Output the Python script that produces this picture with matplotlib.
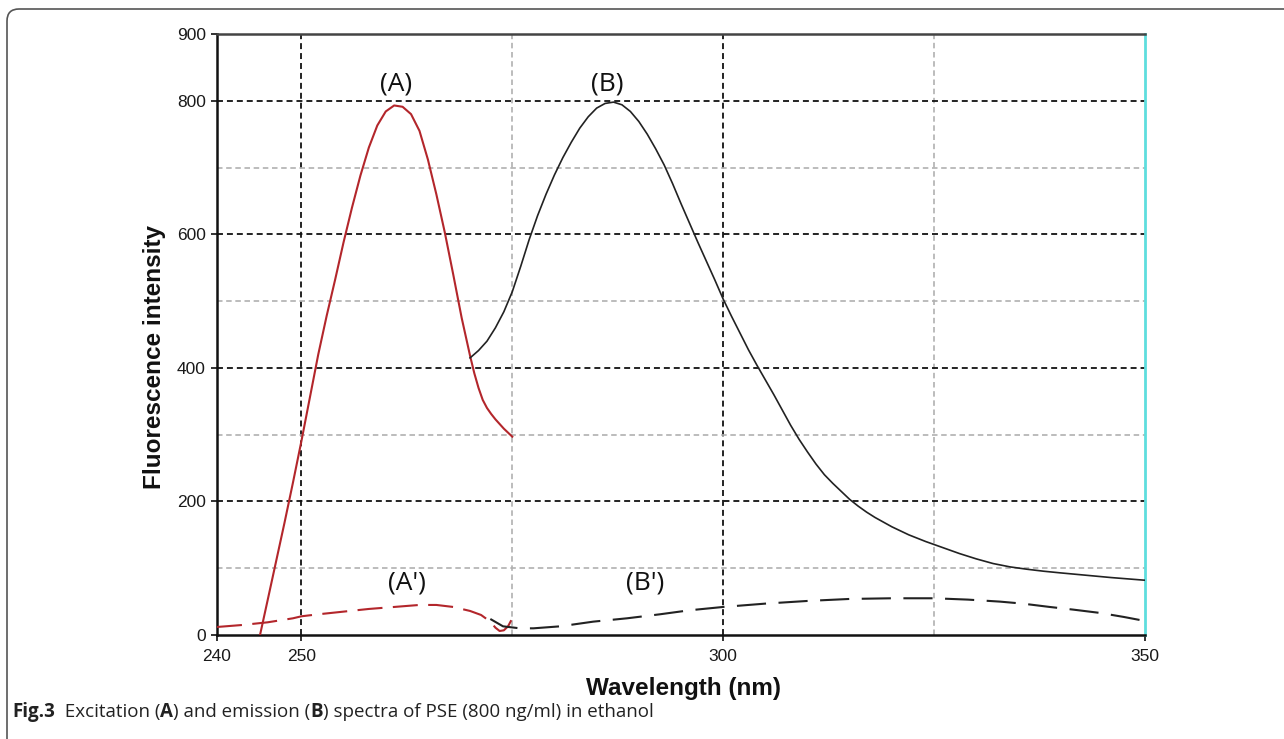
import matplotlib
matplotlib.use("Agg")
import matplotlib.pyplot as plt
from matplotlib import font_manager
from matplotlib.patches import FancyBboxPatch
from matplotlib.transforms import IdentityTransform

# ---------------- data ----------------
# Excitation spectrum (A)
exc_x = [245.1, 246.0, 247.0, 248.0, 249.0, 250.0, 251.0, 252.0, 253.0, 254.0, 255.0,
         256.0, 257.0, 258.0, 259.0, 260.0, 261.0, 262.0, 263.0, 264.0, 265.0, 266.0,
         267.0, 268.0, 269.0, 270.0, 270.5, 271.0, 271.5, 272.0, 272.5, 273.0, 273.5,
         274.0, 274.5, 275.0]
exc_y = [0, 52, 110, 168, 228, 290, 355, 420, 478, 532, 588,
         640, 688, 730, 763, 784, 793, 791, 780, 755, 712, 660,
         603, 540, 475, 418, 392, 370, 352, 340, 331, 323, 316,
         309, 303, 297]

# Emission spectrum (B)
emi_x = [270.0, 271.0, 272.0, 273.0, 274.0, 275.0, 276.0, 277.0, 278.0, 279.0, 280.0,
         281.0, 282.0, 283.0, 284.0, 285.0, 286.0, 287.0, 288.0, 289.0, 290.0, 291.0,
         292.0, 293.0, 294.0, 295.0, 296.0, 297.0, 298.0, 299.0, 300.0, 301.0, 302.0,
         303.0, 304.0, 305.0, 306.0, 307.0, 308.0, 309.0, 310.0, 311.0, 312.0, 313.0,
         314.0, 315.0, 316.0, 317.0, 318.0, 320.0, 322.0, 324.0, 326.0, 328.0, 330.0,
         332.0, 334.0, 336.0, 338.0, 340.0, 343.0, 346.0, 350.0]
emi_y = [415, 426, 440, 460, 484, 514, 552, 592, 628, 660, 689,
         715, 738, 759, 776, 789, 796, 798, 794, 784, 769, 750,
         728, 704, 676, 646, 617, 588, 560, 532, 503, 477, 452,
         427, 404, 382, 360, 337, 314, 293, 274, 256, 240, 227,
         215, 203, 193, 184, 176, 162, 150, 140, 131, 122, 114,
         107, 102, 98.5, 95.5, 93, 89.5, 86, 82]

# Blank excitation (A')
bexc_x = [240, 243, 246, 249, 250, 252, 255, 258, 261, 264, 266, 268, 270, 271.3,
          272.4, 273.0, 273.5, 274.0, 274.5, 275.0]
bexc_y = [12, 15, 19, 25, 28, 31, 35, 39, 42, 45, 45, 42, 36, 30,
          20, 11, 6, 7, 13, 25]

# Blank emission (B')
bemi_x = [272.4, 273.9, 275.9, 277.5, 280.7, 284.6, 288.6, 292.5, 296, 300, 305, 310,
          315, 320, 325, 329, 332.8, 335.5, 338.7, 341.5, 344.7, 347.5, 350]
bemi_y = [24, 13, 10, 10, 13, 20, 25, 31, 37, 42, 47, 51,
          54, 55, 55, 53, 50, 47, 42, 38, 33, 27, 21]

xtick_vals = [240, 250, 300, 350]
ytick_vals = [0, 200, 400, 600, 800, 900]
grid_major_x = [250, 300]
grid_minor_x = [275, 325]
grid_major_y = [200, 400, 600, 800]
grid_minor_y = [100, 300, 500, 700]

curve_labels = ["(A)", "(B)", "(A')", "(B')"]
curve_label_pos = [(261.2, 825), (286.3, 825), (262.5, 78), (290.8, 78)]

caption_parts = [("Fig.3", "bold"), ("  Excitation (", "normal"), ("A", "bold"),
                 (") and emission (", "normal"), ("B", "bold"),
                 (") spectra of PSE (800 ng/ml) in ethanol", "normal")]

# ---------------- figure ----------------
W, H = 1284, 739
fig = plt.figure(figsize=(W / 100, H / 100), dpi=100)
fig.patch.set_facecolor("white")

# outer rounded frame
frame = FancyBboxPatch((7, -30), 1320, 760, boxstyle="round,pad=0,rounding_size=12",
                       transform=IdentityTransform(), facecolor="none",
                       edgecolor="#555555", linewidth=1.2)
fig.patches.append(frame)

L, R, T, B = 217, 1145, 34, 635
ax = fig.add_axes([L / W, (H - B) / H, (R - L) / W, (B - T) / H])
ax.set_xlim(240, 350)
ax.set_ylim(0, 900)

# grid lines
for gx in grid_major_x:
    ax.axvline(gx, color="#111111", lw=1.3, ls=(0, (3.3, 2.2)), zorder=1)
for gx in grid_minor_x:
    ax.axvline(gx, color="#b0b0b0", lw=1.2, ls=(0, (3.3, 2.2)), zorder=1)
for gy in grid_major_y:
    ax.axhline(gy, color="#111111", lw=1.3, ls=(0, (3.3, 2.2)), zorder=1)
for gy in grid_minor_y:
    ax.axhline(gy, color="#b0b0b0", lw=1.2, ls=(0, (3.3, 2.2)), zorder=1)

red = "#b3262b"
ax.plot(exc_x, exc_y, color=red, lw=1.5, zorder=3)
ax.plot(emi_x, emi_y, color="#222222", lw=1.2, zorder=3)
ax.plot(bexc_x, bexc_y, color=red, lw=1.5, ls=(0, (12, 5)), zorder=3)
ax.plot(bemi_x, bemi_y, color="#222222", lw=1.5, ls=(0, (14, 6)), zorder=3)

# spines
for s in ["left", "bottom"]:
    ax.spines[s].set_color("#111111")
    ax.spines[s].set_linewidth(1.8)
ax.spines["top"].set_color("#444444")
ax.spines["top"].set_linewidth(1.8)
ax.spines["right"].set_color("#5edede")
ax.spines["right"].set_linewidth(2.0)

ax.set_xticks(xtick_vals)
ax.set_xticklabels([str(v) for v in xtick_vals])
ax.set_yticks(ytick_vals)
ax.set_yticklabels([str(v) for v in ytick_vals])
ax.tick_params(axis="both", direction="out", length=4, width=1.2, color="#111111",
               labelsize=12.5, labelcolor="#1a1a1a")
ax.tick_params(axis="x", pad=6)
ax.tick_params(axis="y", pad=4)
for lab in ax.get_xticklabels() + ax.get_yticklabels():
    lab.set_fontfamily("Liberation Sans")

# axis labels
fig.text(155 / W, 1 - 357 / H, "Fluorescence intensity", rotation=90, ha="center",
         va="center", fontsize=17.5, fontweight="bold", family="Liberation Sans",
         color="#111111")
fig.text(684 / W, 1 - 688 / H, "Wavelength (nm)", ha="center", va="center",
         fontsize=17.5, fontweight="bold", family="Liberation Sans", color="#111111")

for lab, (lx, ly) in zip(curve_labels, curve_label_pos):
    ax.text(lx, ly, lab, ha="center", va="center", fontsize=19, family="Open Sans",
            color="#111111", zorder=4)

# caption
def has_font(name):
    try:
        font_manager.findfont(font_manager.FontProperties(family=name),
                              fallback_to_default=False)
        return True
    except Exception:
        return False

cap_family = "Liberation Sans Narrow" if has_font("Liberation Sans Narrow") else "Open Sans"
cap_size = 15 if cap_family == "Liberation Sans Narrow" else 13.5
fig.canvas.draw()
renderer = fig.canvas.get_renderer()
x0 = 12
base_y = H - 717
for txt, wt in caption_parts:
    t = fig.text(x0 / W, base_y / H, txt, fontsize=cap_size, fontweight=wt,
                 family=cap_family, ha="left", va="baseline", color="#222222")
    bb = t.get_window_extent(renderer)
    x0 += bb.width

fig.savefig("out.png", dpi=100, facecolor="white")
